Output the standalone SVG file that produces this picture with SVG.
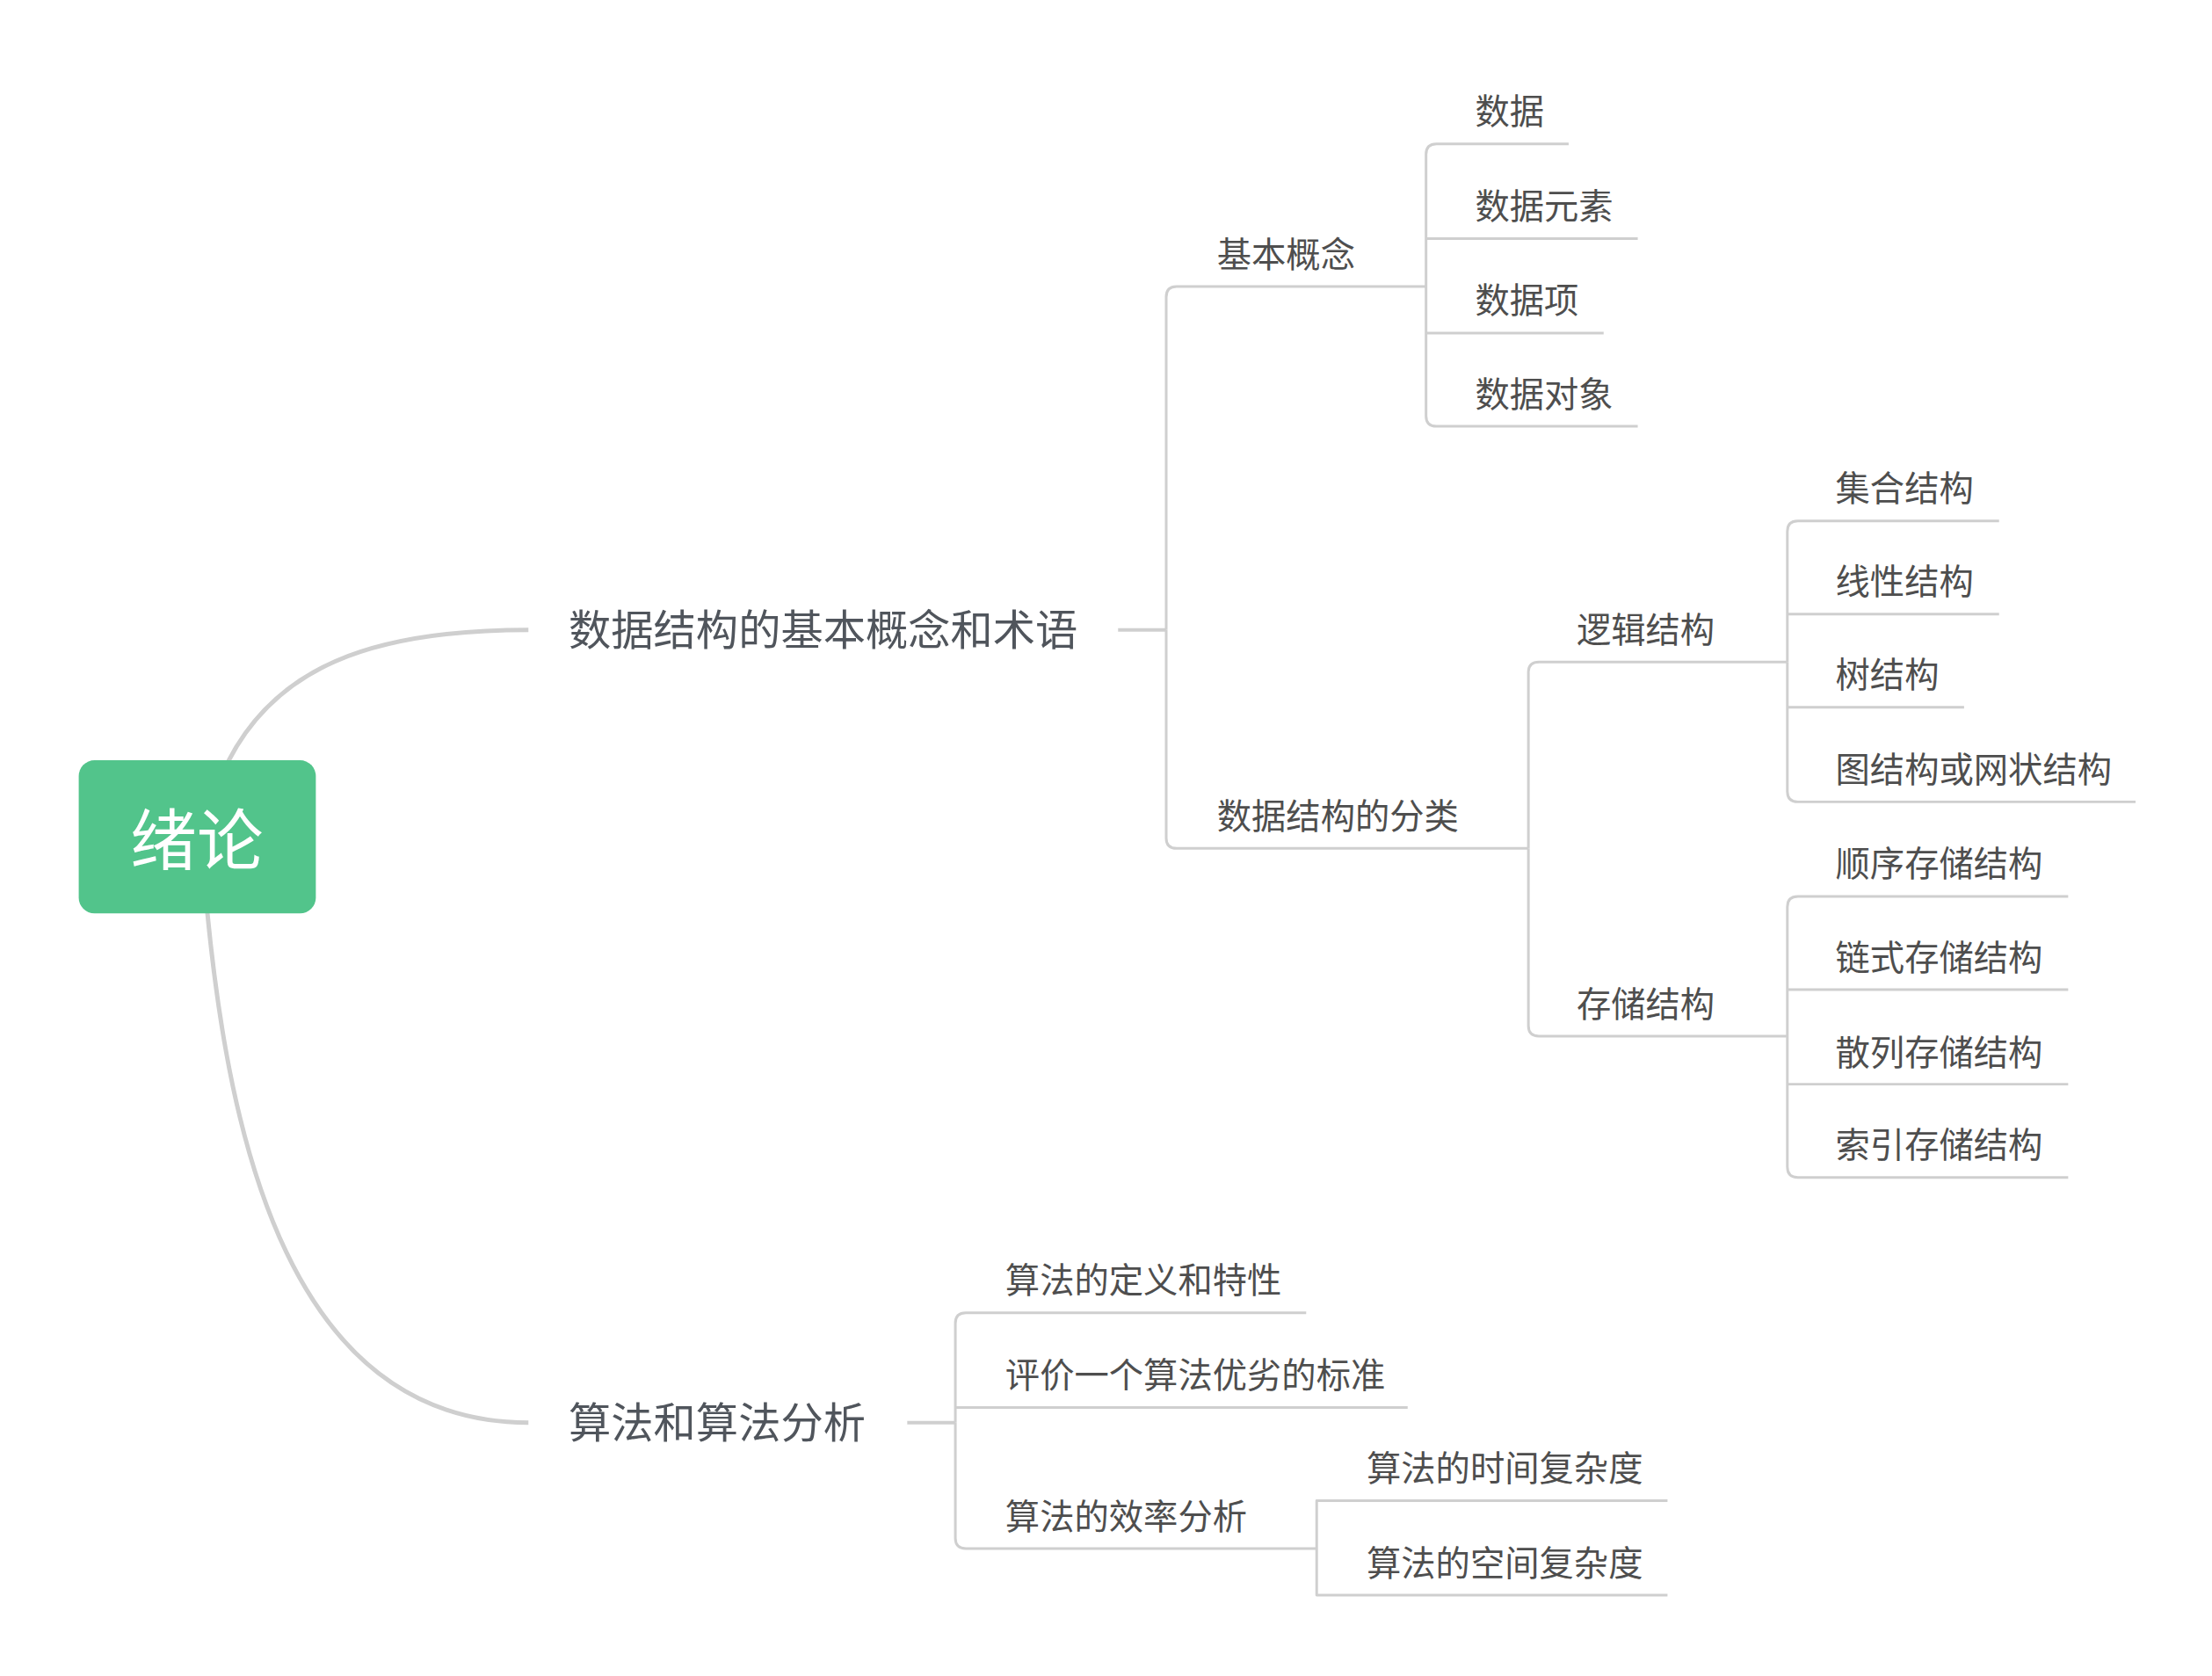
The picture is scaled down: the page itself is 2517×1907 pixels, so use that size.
<svg xmlns="http://www.w3.org/2000/svg" width="2517" height="1907" viewBox="0 0 2517 1907">
<style>
text{font-family:"Noto Sans CJK SC","Noto Sans",sans-serif}
.t1{font-size:48.5px;fill:#50555c}
.t2{font-size:39.5px;fill:#4e4e4e}
.root{font-size:76px;fill:#ffffff;text-anchor:middle}
.c{fill:none;stroke:#cfcfcf;stroke-width:3;stroke-linecap:butt;stroke-linejoin:round}
.cm{fill:none;stroke:#cfcfcf;stroke-width:5}
.cs{fill:none;stroke:#cfcfcf;stroke-width:4}
</style>
<rect width="2517" height="1907" fill="#ffffff"/>
<g id="map" transform="scale(0.9955)">
<g id="connectors">
<path class="cm" d="M261,870 C315,765 420,720 604,720"/>
<path class="cm" d="M237,1043 C262,1300 330,1626 604,1626"/>
<path class="cs" d="M1278,720 L1333,720"/>
<path class="c" d="M1333,720 L1333,339.5 Q1333,327.5 1345,327.5 L1630,327.5"/>
<path class="c" d="M1333,720 L1333,957.7 Q1333,969.7 1345,969.7 L1747,969.7"/>
<path class="c" d="M1630,327.5 L1630,176.6 Q1630,164.6 1642,164.6 L1793,164.6"/>
<path class="c" d="M1630,272.7 L1872,272.7"/>
<path class="c" d="M1630,380.8 L1833,380.8"/>
<path class="c" d="M1630,327.5 L1630,475.3 Q1630,487.3 1642,487.3 L1872,487.3"/>
<path class="c" d="M1747,969.7 L1747,768.7 Q1747,756.7 1759,756.7 L2043,756.7"/>
<path class="c" d="M1747,969.7 L1747,1172.3 Q1747,1184.3 1759,1184.3 L2043,1184.3"/>
<path class="c" d="M2043,756.7 L2043,607.4 Q2043,595.4 2055,595.4 L2285,595.4"/>
<path class="c" d="M2043,701.9 L2285,701.9"/>
<path class="c" d="M2043,808.4 L2245,808.4"/>
<path class="c" d="M2043,756.7 L2043,904.5 Q2043,916.5 2055,916.5 L2441,916.5"/>
<path class="c" d="M2043,1184.3 L2043,1036.6 Q2043,1024.6 2055,1024.6 L2364,1024.6"/>
<path class="c" d="M2043,1131.1 L2364,1131.1"/>
<path class="c" d="M2043,1239.2 L2364,1239.2"/>
<path class="c" d="M2043,1184.3 L2043,1333.7 Q2043,1345.7 2055,1345.7 L2364,1345.7"/>
<path class="cs" d="M1037,1626 L1092,1626"/>
<path class="c" d="M1092,1626 L1092,1512.6 Q1092,1500.6 1104,1500.6 L1493,1500.6"/>
<path class="c" d="M1092,1608.7 L1609,1608.7"/>
<path class="c" d="M1092,1626 L1092,1758 Q1092,1770 1104,1770 L1505,1770"/>
<path class="c" d="M1505,1770 L1505,1715.2 L1906,1715.2"/>
<path class="c" d="M1505,1770 L1505,1823.3 L1906,1823.3"/>
</g>
<g id="root">
<rect x="90" y="869" width="271" height="175" rx="18" fill="#52c48b"/>
<text class="root" x="225" y="988">绪论</text>
</g>
<g id="n-dsbasic"><text class="t1" x="650" y="737">数据结构的基本概念和术语</text></g>
<g id="n-basic"><text class="t2" x="1391" y="305">基本概念</text></g>
<g id="n-data"><text class="t2" x="1686" y="142">数据</text></g>
<g id="n-elem"><text class="t2" x="1686" y="250">数据元素</text></g>
<g id="n-item"><text class="t2" x="1686" y="358">数据项</text></g>
<g id="n-obj"><text class="t2" x="1686" y="465">数据对象</text></g>
<g id="n-class"><text class="t2" x="1391" y="947">数据结构的分类</text></g>
<g id="n-logic"><text class="t2" x="1802" y="734">逻辑结构</text></g>
<g id="n-set"><text class="t2" x="2098" y="573">集合结构</text></g>
<g id="n-linear"><text class="t2" x="2098" y="679">线性结构</text></g>
<g id="n-tree"><text class="t2" x="2098" y="786">树结构</text></g>
<g id="n-graph"><text class="t2" x="2098" y="894">图结构或网状结构</text></g>
<g id="n-storage"><text class="t2" x="1802" y="1162">存储结构</text></g>
<g id="n-seq"><text class="t2" x="2098" y="1002">顺序存储结构</text></g>
<g id="n-link"><text class="t2" x="2098" y="1109">链式存储结构</text></g>
<g id="n-hash"><text class="t2" x="2098" y="1217">散列存储结构</text></g>
<g id="n-index"><text class="t2" x="2098" y="1323">索引存储结构</text></g>
<g id="n-algo"><text class="t1" x="650" y="1643">算法和算法分析</text></g>
<g id="n-def"><text class="t2" x="1149" y="1478">算法的定义和特性</text></g>
<g id="n-eval"><text class="t2" x="1149" y="1586">评价一个算法优劣的标准</text></g>
<g id="n-eff"><text class="t2" x="1149" y="1748">算法的效率分析</text></g>
<g id="n-time"><text class="t2" x="1562" y="1693">算法的时间复杂度</text></g>
<g id="n-space"><text class="t2" x="1562" y="1801">算法的空间复杂度</text></g>
</g>
</svg>
